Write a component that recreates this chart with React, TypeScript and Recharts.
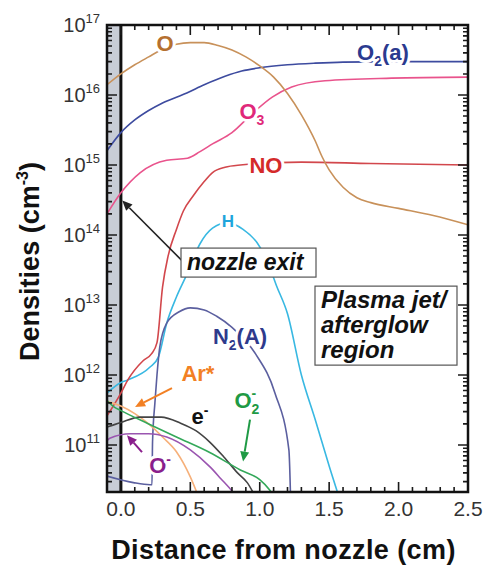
import { LineChart, Line, XAxis, YAxis, ReferenceArea, ReferenceLine, ReferenceDot } from 'recharts';

const FONT = '"Liberation Sans", Arial, Helvetica, sans-serif';

const X_DOMAIN: [number, number] = [-0.1, 2.5];
const Y_DOMAIN: [number, number] = [2.13e10, 1e17];
const xMajorTicks = [0, 0.5, 1.0, 1.5, 2.0, 2.5];
const yMajorTicks = [1e11, 1e12, 1e13, 1e14, 1e15, 1e16, 1e17];

// [distance (cm), density (cm^-3)]
const oAtom: [number, number][] = [
  [-0.1, 1.4e16], [0, 2.0e16], [0.1, 2.7e16], [0.2, 3.5e16], [0.3, 4.5e16], [0.4, 5.3e16],
  [0.5, 5.6e16], [0.6, 5.6e16], [0.7, 5.1e16], [0.8, 4.4e16], [0.9, 3.5e16], [1.0, 2.6e16],
  [1.1, 1.8e16], [1.2, 1.05e16], [1.3, 5.2e15], [1.4, 2.2e15], [1.45, 1.3e15], [1.5, 8.5e14],
  [1.6, 4.8e14], [1.7, 3.4e14], [1.8, 2.9e14], [2.0, 2.4e14], [2.25, 1.9e14], [2.5, 1.4e14],
];
const o2a: [number, number][] = [
  [-0.1, 1.6e15], [0, 2.9e15], [0.1, 4.4e15], [0.2, 6e15], [0.3, 7.7e15], [0.475, 1.07e16],
  [0.6, 1.4e16], [0.75, 1.85e16], [0.87, 2.2e16], [1.0, 2.45e16], [1.2, 2.7e16], [1.4, 2.85e16],
  [1.6, 2.95e16], [2.0, 3.0e16], [2.5, 3.0e16],
];
const ozone: [number, number][] = [
  [-0.1, 2e14], [0, 4e14], [0.14, 7.8e14], [0.33, 1.17e15], [0.48, 1.25e15], [0.57, 1.55e15],
  [0.66, 2.0e15], [0.8, 2.9e15], [0.95, 5.5e15], [1.09, 9.3e15], [1.23, 1.3e16], [1.47, 1.6e16],
  [1.95, 1.74e16], [2.5, 1.8e16],
];
const nitricOxide: [number, number][] = [
  [-0.1, 2.6e11], [0, 5.5e11], [0.05, 8.5e11], [0.16, 1.6e12], [0.22, 2.0e12], [0.26, 2.9e12],
  [0.3, 1.8e13], [0.34, 5e13], [0.4, 1.2e14], [0.45, 2.2e14], [0.52, 3.6e14], [0.6, 5.8e14],
  [0.66, 7.8e14], [0.75, 9.3e14], [0.86, 1.0e15], [1.3, 1.1e15], [1.8, 1.05e15], [2.5, 1.0e15],
];
const hAtom: [number, number][] = [
  [-0.1, 5.5e11], [0, 7.8e11], [0.05, 8.5e11], [0.21, 1.3e12], [0.27, 1.8e12], [0.33, 5.5e12],
  [0.4, 1.3e13], [0.47, 2.6e13], [0.57, 7.5e13], [0.66, 1.25e14], [0.77, 1.5e14], [0.88, 1.2e14],
  [0.98, 7.8e13], [1.06, 4e13], [1.12, 1.9e13], [1.2, 7.5e12], [1.3, 1e12], [1.4, 2.3e11],
  [1.5, 5e10], [1.6, 1.2e10],
];
const n2a: [number, number][] = [
  [-0.1, 3.6e10], [0.09, 2.9e10], [0.21, 2.7e10], [0.224, 2.7e10], [0.228, 1.1e11], [0.245, 4e11],
  [0.26, 1e12], [0.28, 2.5e12], [0.33, 5.5e12], [0.42, 8e12], [0.5, 9.1e12], [0.6, 8.5e12],
  [0.69, 6.9e12], [0.8, 4.8e12], [0.97, 2e12], [1.11, 5.5e11], [1.21, 8.5e10], [1.225, 1e10],
];
const arStar: [number, number][] = [
  [-0.1, 4.2e11], [0, 3.6e11], [0.1, 2.8e11], [0.2, 2e11], [0.3, 1.3e11], [0.4, 8e10],
  [0.5, 3.5e10], [0.56, 1.8e10],
];
const electrons: [number, number][] = [
  [-0.1, 1.8e11], [0, 2.1e11], [0.14, 2.5e11], [0.29, 2.5e11], [0.43, 2.05e11], [0.54, 1.6e11],
  [0.64, 1.1e11], [0.74, 6.8e10], [0.84, 4e10], [0.91, 2.9e10], [0.97, 1.8e10],
];
const oMinus: [number, number][] = [
  [-0.1, 1.15e11], [-0.08, 1.25e11], [0.07, 1.45e11], [0.2, 1.45e11], [0.33, 1.3e11], [0.5, 8.5e10],
  [0.64, 4.9e10], [0.72, 3.3e10], [0.8, 2.2e10], [0.86, 1.5e10],
];
const o2Minus: [number, number][] = [
  [-0.1, 4.3e11], [-0.05, 3.5e11], [0, 3.1e11], [0.2, 2.0e11], [0.4, 1.3e11], [0.64, 7.8e10],
  [0.86, 4.4e10], [1.0, 3.2e10], [1.07, 2.3e10], [1.12, 1.6e10],
];

const SERIES = [
  { key: 'H', pts: hAtom, color: '#38b8e2' },
  { key: 'NO', pts: nitricOxide, color: '#d2474c' },
  { key: 'O3', pts: ozone, color: '#e9538c' },
  { key: 'O2a', pts: o2a, color: '#3d4b9f' },
  { key: 'O', pts: oAtom, color: '#c8915a' },
  { key: 'N2A', pts: n2a, color: '#5b5f9f' },
  { key: 'Ar', pts: arStar, color: '#f6b07a' },
  { key: 'e', pts: electrons, color: '#444444' },
  { key: 'Om', pts: oMinus, color: '#9a55b0' },
  { key: 'O2m', pts: o2Minus, color: '#34a85a' },
];

// minor tick positions (axis decoration only)
const xMinorTicks: number[] = [];
for (let i = 0; i <= 24; i++) xMinorTicks.push(i / 10);
const yMinorTicks: number[] = [];
for (let e = 10; e <= 16; e++) for (let m = 1; m <= 9; m++) {
  const v = m * Math.pow(10, e);
  if (v > Y_DOMAIN[0] && v < Y_DOMAIN[1]) yMinorTicks.push(v);
}

const isXMajor = (v: number) => Math.abs(v * 2 - Math.round(v * 2)) < 1e-6;
const isYMajor = (v: number) => Math.abs(Math.log10(v) - Math.round(Math.log10(v))) < 1e-6;

// frame + inward ticks, placed from the corner-to-corner segment the chart scales give us
const frameShape = (p: any) => {
  const { x1, y1, x2, y2 } = p; // (xmin, ymin) -> (xmax, ymax) in pixels
  const left = Math.min(x1, x2), right = Math.max(x1, x2);
  const top = Math.min(y1, y2), bottom = Math.max(y1, y2);
  const lx0 = Math.log10(Y_DOMAIN[0]), lx1 = Math.log10(Y_DOMAIN[1]);
  const px = (v: number) => x1 + ((v - X_DOMAIN[0]) / (X_DOMAIN[1] - X_DOMAIN[0])) * (x2 - x1);
  const py = (v: number) => y1 + ((Math.log10(v) - lx0) / (lx1 - lx0)) * (y2 - y1);
  let d = '';
  xMinorTicks.forEach((v) => {
    const len = isXMajor(v) ? 10 : 5;
    const x = px(v);
    d += `M${x},${top}v${len}M${x},${bottom}v${-len}`;
  });
  yMinorTicks.forEach((v) => {
    const len = isYMajor(v) ? 10 : 5;
    const y = py(v);
    d += `M${left},${y}h${len}M${right},${y}h${-len}`;
  });
  return (
    <g>
      <path d={d} stroke="#1a1a1a" strokeWidth={1.6} fill="none" />
      <rect x={left} y={top} width={right - left} height={bottom - top} fill="none" stroke="#111" strokeWidth={2.5} />
    </g>
  );
};

const XLabelTick = (p: any) => (
  <text x={p.x} y={p.y + 24} textAnchor="middle" fontSize={21} fill="#333" fontFamily={FONT}>
    {p.payload.value.toFixed(1)}
  </text>
);

const YLabelTick = (p: any) => (
  <text x={p.x} y={p.y + 7} textAnchor="end" fontSize={20} fill="#333" fontFamily={FONT}>
    10<tspan dy={-9} fontSize={13}>{Math.round(Math.log10(p.payload.value))}</tspan>
  </text>
);

const YTitle = (p: any) => {
  const cx = p.viewBox.x + 30;
  const cy = p.viewBox.y + p.viewBox.height / 2 + 3;
  return (
    <text x={cx} y={cy + 9} transform={`rotate(-90, ${cx}, ${cy})`} textAnchor="middle" fontSize={27}
      fontWeight="bold" fill="#111" fontFamily={FONT}>
      Densities (cm<tspan dy={-11} fontSize={16}>-3</tspan><tspan dy={11}>)</tspan>
    </text>
  );
};

const XTitle = (p: any) => (
  <text x={p.viewBox.x + p.viewBox.width / 2 - 4} y={p.viewBox.y + 67} textAnchor="middle" fontSize={27}
    letterSpacing={0.4} fontWeight="bold" fill="#111" fontFamily={FONT}>
    Distance from nozzle (cm)
  </text>
);

function tag(children: any, color: string, size = 22) {
  return (p: any) => (
    <text x={p.cx} y={p.cy + size * 0.36} textAnchor="middle" fontSize={size} fontWeight="bold" fill={color}
      stroke="#fff" strokeWidth={6} strokeLinejoin="round" paintOrder="stroke" fontFamily={FONT}>
      {children}
    </text>
  );
}

function arrow(color: string, width = 1.6) {
  return (p: any) => {
    const { x1, y1, x2, y2 } = p;
    const a = Math.atan2(y2 - y1, x2 - x1);
    const L = 10, W = 4.5;
    const bx = x2 - L * Math.cos(a), by = y2 - L * Math.sin(a);
    const pts = `${x2},${y2} ${bx - W * Math.sin(a)},${by + W * Math.cos(a)} ${bx + W * Math.sin(a)},${by - W * Math.cos(a)}`;
    return (
      <g>
        <line x1={x1} y1={y1} x2={bx} y2={by} stroke={color} strokeWidth={width} />
        <polygon points={pts} fill={color} />
      </g>
    );
  };
}

function box(lines: string[], w: number, h: number, size: number, step: number) {
  return (p: any) => (
    <g>
      <rect x={p.cx} y={p.cy} width={w} height={h} fill="#fff" stroke="#555" strokeWidth={1.2} />
      {lines.map((t, i) => (
        <text key={t} x={p.cx + 6} y={p.cy + 22 + i * step} fontSize={size} fontWeight="bold" fontStyle="italic"
          fill="#111" fontFamily={FONT}>{t}</text>
      ))}
    </g>
  );
}

const sub = (t: string) => <tspan dy={6} fontSize={14}>{t}</tspan>;

export default function App() {
  return (
    <div style={{ position: 'absolute', left: 0, top: 0, width: 484, height: 567, background: '#fff' }}>
      <LineChart width={484} height={567} margin={{ top: 25, right: 16, bottom: 0, left: 0 }}>
        <XAxis type="number" dataKey="x" domain={X_DOMAIN} allowDataOverflow ticks={xMajorTicks} interval={0}
          height={75} tickLine={false} tickSize={0} tickMargin={0} tick={XLabelTick}
          axisLine={false} label={<XTitleLabel />} />
        <YAxis type="number" scale="log" domain={Y_DOMAIN} allowDataOverflow ticks={yMajorTicks} interval={0}
          width={107} tickLine={false} tickSize={0} tickMargin={7} tick={YLabelTick}
          axisLine={false} label={<YTitleLabel />} />

        <ReferenceArea x1={-0.1} x2={0} fill="#c8cdd6" fillOpacity={1} stroke="none" />
        <ReferenceLine x={0} stroke="#111" strokeWidth={3} />

        {SERIES.map((s) => (
          <Line key={s.key} data={s.pts.map(([x, v]) => ({ x, v }))} dataKey="v" type="monotone"
            stroke={s.color} strokeWidth={1.6} dot={false} activeDot={false} isAnimationActive={false} />
        ))}

        <ReferenceLine segment={[{ x: X_DOMAIN[0], y: Y_DOMAIN[0] }, { x: X_DOMAIN[1], y: Y_DOMAIN[1] }]} shape={frameShape} />

        <ReferenceDot x={0.318} y={5.5e16} shape={tag('O', '#b5702f')} />
        <ReferenceDot x={1.888} y={4.1e16} shape={tag(<>O{sub('2')}<tspan dy={-6}>(a)</tspan></>, '#2b3a8f')} />
        <ReferenceDot x={0.944} y={5.8e15} shape={tag(<>O{sub('3')}</>, '#e0287a')} />
        <ReferenceDot x={1.045} y={1e15} shape={tag('NO', '#d42a2a')} />
        <ReferenceDot x={0.771} y={1.6e14} shape={tag('H', '#1ea5dc', 17)} />
        <ReferenceDot x={0.858} y={3.6e12} shape={tag(<>N{sub('2')}<tspan dy={-6}>(A)</tspan></>, '#2e3a8c')} />
        <ReferenceDot x={0.555} y={1.07e12} shape={tag('Ar*', '#f28024')} />
        <ReferenceDot x={0.57} y={2.6e11} shape={tag(<>e<tspan dy={-9} fontSize={14}>-</tspan></>, '#111')} />
        <ReferenceDot x={0.282} y={5.1e10} shape={tag(<>O<tspan dy={-9} fontSize={14}>-</tspan></>, '#8a1f8c')} />
        <ReferenceDot x={0.908} y={4.4e11} shape={tag(<>O<tspan dy={6} fontSize={14}>2</tspan><tspan dy={-16} dx={-8} fontSize={14}>-</tspan></>, '#1f9a45')} />

        <ReferenceDot x={0.433} y={6.5e13} shape={box(['nozzle exit'], 135, 29, 23, 0)} />
        <ReferenceDot x={1.398} y={1.86e13} shape={box(['Plasma jet/', 'afterglow', 'region'], 142, 79, 24, 25)} />

        <ReferenceLine segment={[{ x: 0.44, y: 4.3e13 }, { x: 0.01, y: 3.1e14 }]} shape={arrow('#222')} />
        <ReferenceLine segment={[{ x: 0.368, y: 6.5e11 }, { x: 0.102, y: 3.5e11 }]} shape={arrow('#f28024', 2)} />
        <ReferenceLine segment={[{ x: 0.152, y: 7.9e10 }, { x: 0.044, y: 1.38e11 }]} shape={arrow('#8a1f8c', 2)} />
        <ReferenceLine segment={[{ x: 0.93, y: 2.3e11 }, { x: 0.88, y: 5.8e10 }]} shape={arrow('#1f9a45', 2)} />
      </LineChart>
    </div>
  );
}

function XTitleLabel(props: any) {
  return <XTitle {...props} />;
}

function YTitleLabel(props: any) {
  return <YTitle {...props} />;
}
